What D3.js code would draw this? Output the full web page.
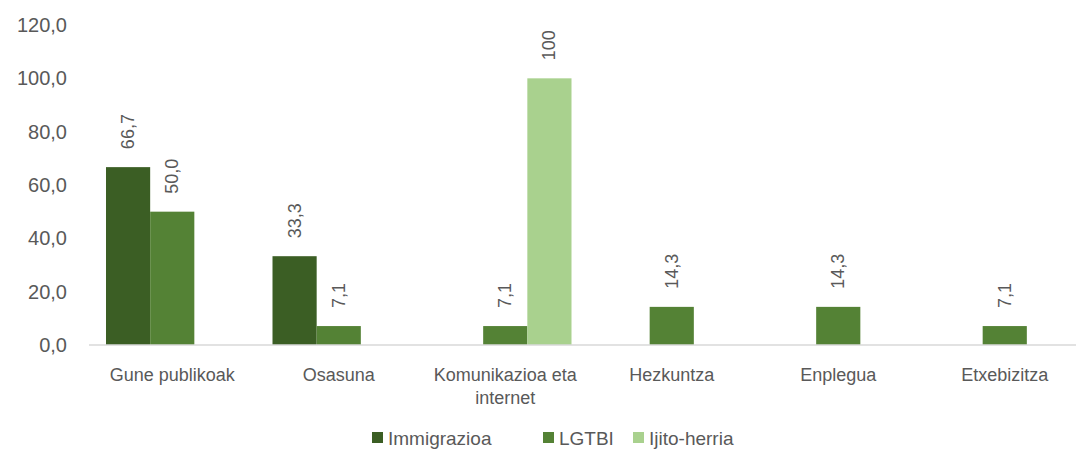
<!DOCTYPE html>
<html>
<head>
<meta charset="utf-8">
<script src="https://cdn.jsdelivr.net/npm/d3@7"></script>
<style>
  body { margin: 0; background: #fff; }
  text { font-family: "Liberation Sans", Arial, sans-serif; fill: #595959; }
</style>
</head>
<body>
<div id="chart"></div>
<script>
// categories and series
var categories = ["Gune publikoak", "Osasuna", "Komunikazioa eta internet", "Hezkuntza", "Enplegua", "Etxebizitza"];
var seriesNames = ["Immigrazioa", "LGTBI", "Ijito-herria"];
var immigrazioa = [66.7, 33.3, null, null, null, null];
var lgtbi = [50.0, 7.1, 7.1, 14.3, 14.3, 7.1];
var ijito = [null, null, 100, null, null, null];
var labelDecimals = [1, 1, 0];
var yTicks = [0, 20, 40, 60, 80, 100, 120];
var colors = ["#3b5e24", "#548235", "#a9d18e"];

var width = 1076, height = 460,
  margin = {top: 25, right: -12, bottom: 115, left: 89};

var svg = d3.select("#chart").append("svg")
  .attr("width", width)
  .attr("height", height);

var seriesValues = [immigrazioa, lgtbi, ijito];

// x: one band per category, then one sub band per series
var x0 = d3.scaleBand()
  .domain(categories)
  .range([margin.left, width - margin.right])
  .padding(0);

var groupPad = 17;
var x1 = d3.scaleBand()
  .domain(seriesNames)
  .range([groupPad, x0.bandwidth() - groupPad]);

var y = d3.scaleLinear()
  .domain([0, 120])
  .range([height - margin.bottom, margin.top]);

var fmt = function(v, dec) { return v.toFixed(dec).replace(".", ","); };

// y axis, labels only
var yAxis = d3.axisLeft(y)
  .tickValues(yTicks)
  .tickSize(0)
  .tickPadding(0)
  .tickFormat(function(d) { return fmt(d, 1); });

var gy = svg.append("g")
  .attr("transform", "translate(67,0)")
  .call(yAxis);
gy.select(".domain").remove();
gy.selectAll("text").attr("font-size", "20px").style("fill", "#595959");

// bars
var groups = svg.selectAll(".cat")
  .data(categories)
  .enter()
  .append("g")
  .attr("class", "cat")
  .attr("transform", function(d) { return "translate(" + x0(d) + ",0)"; });

groups.each(function(cat, ci) {
  var g = d3.select(this);
  seriesNames.forEach(function(s, si) {
    var v = seriesValues[si][ci];
    if (v == null) return;
    g.append("rect")
      .attr("x", x1(s))
      .attr("y", y(v))
      .attr("width", x1.bandwidth())
      .attr("height", y(0) - y(v))
      .attr("fill", colors[si]);
    // rotated value label above the bar
    var cx = x1(s) + x1.bandwidth() / 2 + 6;
    var ty = y(v) - 18;
    g.append("text")
      .attr("transform", "translate(" + cx + "," + ty + ") rotate(-90)")
      .attr("text-anchor", "start")
      .attr("font-size", "18px")
      .text(fmt(v, labelDecimals[si]));
  });
});

// baseline
svg.append("line")
  .attr("x1", margin.left)
  .attr("x2", width)
  .attr("y1", y(0))
  .attr("y2", y(0))
  .attr("stroke", "#d9d9d9")
  .attr("stroke-width", 1.5);

// category labels, wrapped like the original
var catLabels = svg.selectAll(".catlabel")
  .data(categories)
  .enter()
  .append("text")
  .attr("class", "catlabel")
  .attr("text-anchor", "middle")
  .attr("font-size", "18px")
  .attr("y", y(0) + 36);

catLabels.each(function(d) {
  var t = d3.select(this);
  var cx = x0(d) + x0.bandwidth() / 2;
  var lines = d.length > 20 ? [d.slice(0, d.lastIndexOf(" ")), d.slice(d.lastIndexOf(" ") + 1)] : [d];
  lines.forEach(function(line, i) {
    t.append("tspan")
      .attr("x", cx)
      .attr("dy", i === 0 ? 0 : 23)
      .text(line);
  });
});

// legend
var legendX = [372, 543, 633];
var legend = svg.selectAll(".legend")
  .data(seriesNames)
  .enter()
  .append("g")
  .attr("class", "legend")
  .attr("transform", function(d, i) { return "translate(" + legendX[i] + ",438)"; });

legend.append("rect")
  .attr("x", 0)
  .attr("y", -6)
  .attr("width", 11)
  .attr("height", 11)
  .attr("fill", function(d, i) { return colors[i]; });

legend.append("text")
  .attr("x", 16)
  .attr("y", 7)
  .attr("font-size", "19px")
  .text(function(d) { return d; });
</script>
</body>
</html>
